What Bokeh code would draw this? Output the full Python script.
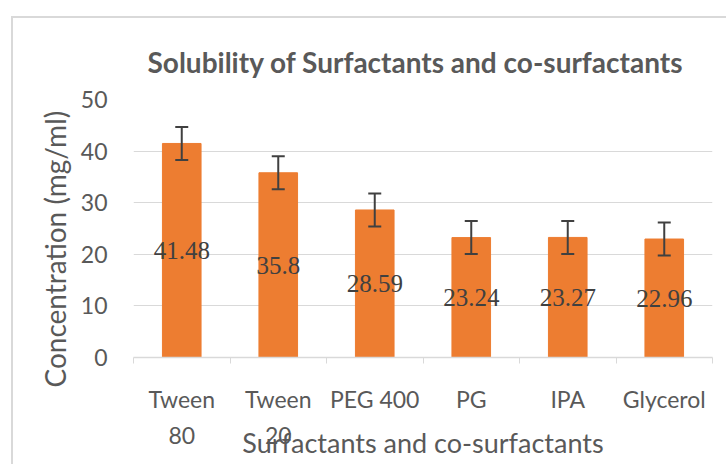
from bokeh.plotting import figure
from bokeh.layouts import column
from bokeh.models import (ColumnDataSource, Range1d, FixedTicker, Whisker, TeeHead,
                          LabelSet, Title)
from bokeh.embed import file_html
from bokeh.resources import INLINE

# ---- data ----
categories = ["Tween 80", "Tween 20", "PEG 400", "PG", "IPA", "Glycerol"]
tick_labels = ["Tween\n80", "Tween\n20", "PEG 400", "PG", "IPA", "Glycerol"]
concentration = [41.48, 35.8, 28.59, 23.24, 23.27, 22.96]
error = [3.2, 3.2, 3.2, 3.2, 3.2, 3.2]
y_ticks = [0, 10, 20, 30, 40, 50]

title_text = "Solubility of Surfactants and co-surfactants"
x_title = "Surfactants and co-surfactants"
y_title = "Concentration (mg/ml)"

FONT = "Lato"
GREY = "#595959"

idx = list(range(len(categories)))
src = ColumnDataSource(dict(
    x=idx,
    cat=categories,
    top=concentration,
    upper=[v + e for v, e in zip(concentration, error)],
    lower=[v - e for v, e in zip(concentration, error)],
    mid=[v / 2 for v in concentration],
    lab=[("%g" % v) for v in concentration],
))

p = figure(width=713, height=446, output_backend="svg", toolbar_location=None, title=None,
           x_range=Range1d(-0.5, len(categories) - 0.5), y_range=Range1d(0, 50),
           min_border_left=120, min_border_right=14, min_border_top=81, min_border_bottom=107)
p.outline_line_color = None
p.background_fill_color = "white"
p.border_fill_color = "white"

# spacer (closest to frame) then the main title
p.add_layout(Title(text=" ", text_font_size="12px", standoff=0), "above")
p.add_layout(Title(text=title_text, text_font=FONT, text_font_style="bold",
                   text_font_size="28px", text_color=GREY, align="left", offset=14), "above")

# y axis title as a side title (allows shifting along the axis)
p.add_layout(Title(text=y_title, text_font=FONT, text_font_style="normal",
                   text_font_size="28px", text_color=GREY, align="left", offset=-30,
                   standoff=12), "left")

p.vbar(x="x", top="top", width=0.4, bottom=0, source=src,
       fill_color="#ED7D31", line_color="#ED7D31")

w = Whisker(base="x", upper="upper", lower="lower", source=src,
            line_color="#404040", line_width=2, level="annotation",
            upper_head=TeeHead(size=13, line_color="#404040", line_width=2),
            lower_head=TeeHead(size=13, line_color="#404040", line_width=2))
p.add_layout(w)

labels = LabelSet(x="x", y="mid", text="lab", source=src, text_align="center",
                  text_baseline="middle", text_font=FONT, text_font_size="25px",
                  text_color="#404040")
p.add_layout(labels)

# axes
p.xgrid.grid_line_color = None
p.ygrid.grid_line_color = "#d9d9d9"
p.ygrid.grid_line_width = 1

p.yaxis.ticker = FixedTicker(ticks=y_ticks)
p.yaxis.axis_line_color = None
p.yaxis.major_tick_line_color = None
p.yaxis.minor_tick_line_color = None
p.yaxis.major_label_standoff = 20
p.yaxis.major_label_text_font = FONT
p.yaxis.major_label_text_font_size = "23px"
p.yaxis.major_label_text_color = GREY

p.xaxis.ticker = FixedTicker(ticks=idx, minor_ticks=[i - 0.5 for i in range(len(categories) + 1)])
p.xaxis.major_label_overrides = {i: t for i, t in zip(idx, tick_labels)}
p.xaxis.axis_line_color = "#d9d9d9"
p.xaxis.axis_line_width = 1.5
p.xaxis.major_tick_line_color = None
p.xaxis.minor_tick_line_color = "#d9d9d9"
p.xaxis.minor_tick_out = 6
p.xaxis.minor_tick_in = 0
p.xaxis.major_label_standoff = 21
p.xaxis.major_label_text_font = FONT
p.xaxis.major_label_text_font_size = "23px"
p.xaxis.major_label_text_color = GREY
p.xaxis.major_label_text_line_height = 1.3
p.xaxis.axis_label = x_title
p.xaxis.axis_label_standoff = -26
p.xaxis.axis_label_text_font = FONT
p.xaxis.axis_label_text_font_size = "27px"
p.xaxis.axis_label_text_font_style = "normal"
p.xaxis.axis_label_text_color = GREY

layout = column(p, styles={"margin-left": "11px", "margin-top": "16px",
                           "border-left": "2px solid #d9d9d9", "border-top": "2px solid #d9d9d9"})

open("out.html", "w").write(file_html(layout, INLINE))
